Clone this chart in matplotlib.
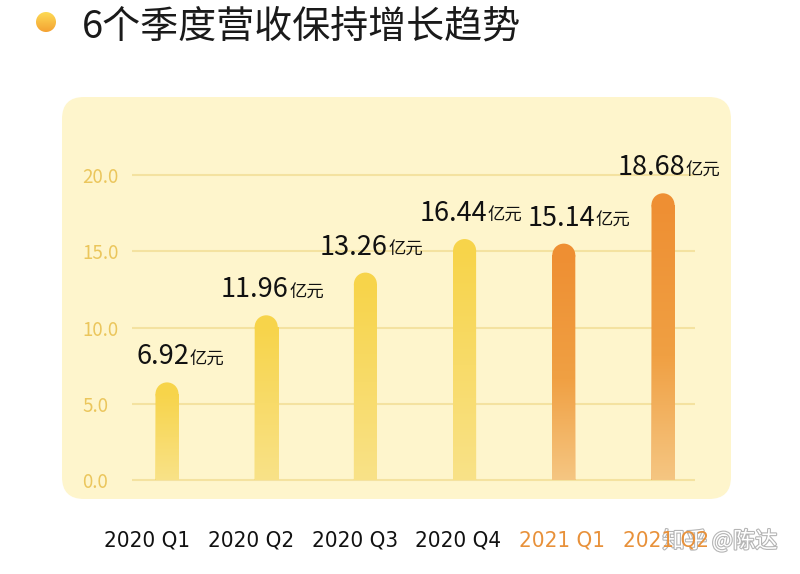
import numpy as np
import matplotlib.pyplot as plt
import matplotlib.patheffects as pe
from matplotlib.patches import FancyBboxPatch, Ellipse, Circle
from matplotlib.colors import LinearSegmentedColormap

plt.rcParams['font.family'] = ['Noto Sans CJK SC', 'DejaVu Sans']

title = '6个季度营收保持增长趋势'
quarters = ['2020 Q1', '2020 Q2', '2020 Q3', '2020 Q4', '2021 Q1', '2021 Q2']
revenue_text = ['6.92', '11.96', '13.26', '16.44', '15.14', '18.68']
# bar heights as drawn in the source picture (it is not to scale)
bar_heights = [6.4, 10.8, 13.6, 15.8, 15.5, 18.8]
is_2021 = [False, False, False, False, True, True]
yticks = [0, 5, 10, 15, 20]

W, H = 800, 574
fig = plt.figure(figsize=(W / 100, H / 100), dpi=100)

# background layer, pixel coords
bg = fig.add_axes([0, 0, 1, 1], zorder=0)
bg.axis('off')
bg.add_patch(FancyBboxPatch((62, 97), 669, 402, boxstyle='round,pad=0,rounding_size=22',
                            fc='#FEF5CC', ec='none'))
bg.text(82, 27, title, fontsize=27.4, ha='left', va='center', color='#1a1a1a')

# round bullet before the title
bullet_cmap = LinearSegmentedColormap.from_list('bullet', ['#F4A232', '#FDDA55'])
img = bg.imshow(np.linspace(0, 1, 64).reshape(-1, 1), extent=(36, 56, 32, 12),
                cmap=bullet_cmap, aspect='auto', origin='lower', zorder=2)
dot = Circle((46, 22), 10, transform=bg.transData)
img.set_clip_path(dot)

bg.text(720, 541, '知乎 @陈达', fontsize=16, ha='center', va='center', color='white',
        path_effects=[pe.withStroke(linewidth=1.6, foreground='#b5b5b5')], zorder=5)
bg.set_xlim(0, W)
bg.set_ylim(H, 0)

# main chart axes: y=0 at 480px, 15.25 px per unit, bars 99.2 px apart
ppu, step = 15.25, 99.2
ax = fig.add_axes([132 / W, (H - 483.05) / H, (695 - 132) / W, (483.05 - 171.95) / H], zorder=1)
ax.patch.set_visible(False)
for s in ax.spines.values():
    s.set_visible(False)

x = np.arange(len(quarters))
bw = 23 / step
ry = 11.5 / ppu

yellow = LinearSegmentedColormap.from_list('yel', ['#F9E288', '#F7D44A'])
orange = LinearSegmentedColormap.from_list('org', [(0, '#F5C682'), (0.45, '#F0A043'), (1, '#EE8F33')])

body = [h - ry for h in bar_heights]
bars = ax.bar(x, body, width=bw, color='#F7D44A', zorder=2, snap=False, lw=0)
for xi, h, b, new in zip(x, bar_heights, bars, is_2021):
    cmap = orange if new else yellow
    top = '#EE8F33' if new else '#F7D44A'
    b.set_facecolor(top)
    g = ax.imshow(np.linspace(0, 1, 256).reshape(-1, 1), extent=(xi - bw / 2, xi + bw / 2, 0, h - ry),
                  origin='lower', cmap=cmap, aspect='auto', zorder=3)
    g.set_clip_path(b)
    ax.add_patch(Ellipse((xi, h - ry), bw, 2 * ry, fc=top, ec='none', lw=0, zorder=1.9))

labels = []
for xi, h, txt in zip(x, bar_heights, revenue_text):
    num = ax.annotate(txt, (xi, h), xytext=(16, 13), textcoords='offset points',
                      ha='right', va='baseline', fontsize=19.5, color='#111111', zorder=4)
    unit = ax.annotate('亿元', (xi, h), xytext=(16.5, 13), textcoords='offset points',
                       ha='left', va='baseline', fontsize=12.5, color='#111111', zorder=4)
    labels.append((num, unit))

ax.set_xlim(-35 / step, (695 - 167) / step)
ax.set_ylim(-0.2, 20.2)
ax.set_xticks([])
ax.set_yticks(yticks)
ax.set_yticklabels([f'{v:.1f}' for v in yticks])
ax.yaxis.grid(True, color='#F4E2A0', lw=1.5)
ax.set_axisbelow(True)
ax.tick_params(axis='y', length=0, pad=36, labelsize=13.5, labelcolor='#EBC65C')
for lbl in ax.get_yticklabels():
    lbl.set_ha('left')

# quarter labels sit on their own spacing (103.8 px apart, first at 147px)
lab = fig.add_axes(ax.get_position(), zorder=1)
lab.patch.set_visible(False)
for s in lab.spines.values():
    s.set_visible(False)
lab.set_yticks([])
lab.set_xlim((132 - 147) / 103.8, (695 - 147) / 103.8)
lab.set_xticks(x)
lab.set_xticklabels(quarters, family=['DejaVu Sans'], stretch='condensed', fontsize=16)
lab.tick_params(axis='x', length=0, pad=34)
for lbl, new in zip(lab.get_xticklabels(), is_2021):
    lbl.set_color('#E8913A' if new else '#111111')

# push a value label right if it runs into the one before it
fig.canvas.draw()
r = fig.canvas.get_renderer()
for (pn, pu), (n, u) in zip(labels[:-1], labels[1:]):
    prev = pu.get_window_extent(r)
    cur = n.get_window_extent(r)
    if cur.y0 < prev.y1 and cur.y1 > prev.y0 and cur.x0 < prev.x1 + 5:
        shift = (prev.x1 + 5 - cur.x0) * 72 / fig.dpi
        for t in (n, u):
            dx, dy = t.xyann
            t.xyann = (dx + shift, dy)

fig.savefig('out.png', dpi=100)
